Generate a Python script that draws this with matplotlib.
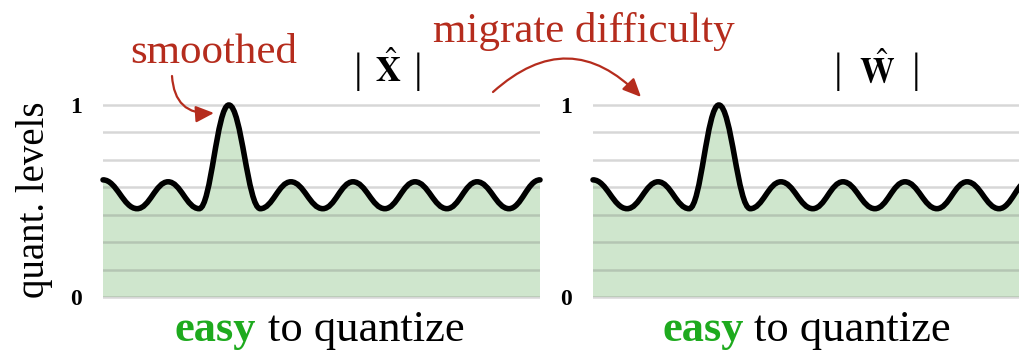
import matplotlib
matplotlib.use("Agg")
import matplotlib.pyplot as plt
from matplotlib.path import Path
from matplotlib.patches import PathPatch, FancyArrowPatch

plt.rcParams['font.family'] = ['Liberation Serif', 'DejaVu Serif']
plt.rcParams['mathtext.fontset'] = 'stix'

# extrema of the smoothed curve
# x: fraction of panel width, y: quantization level (0..1)
knot_x = [0.0, 0.078, 0.149, 0.220, 0.288, 0.360, 0.430, 0.503,
          0.572, 0.645, 0.714, 0.787, 0.856, 0.929, 1.0]
knot_y = [0.61, 0.46, 0.60, 0.46, 1.0, 0.46, 0.60, 0.46,
          0.60, 0.46, 0.60, 0.46, 0.60, 0.46, 0.61]

levels = [0, 0.143, 0.286, 0.429, 0.571, 0.714, 0.857, 1.0]
level_labels = ['0', '', '', '', '', '', '', '1']

titles = [r'$\hat{\mathbf{X}}$', r'$\hat{\mathbf{W}}$']

W, H = 1020, 354
red = '#b52c1d'
green = '#1eaa1e'
fill_green = '#cfe6cd'


def wave(xs, ys, k=0.4, close=False):
    verts = [(xs[0], ys[0])]
    codes = [Path.MOVETO]
    for i in range(len(xs) - 1):
        dx = xs[i + 1] - xs[i]
        verts += [(xs[i] + k * dx, ys[i]), (xs[i + 1] - k * dx, ys[i + 1]), (xs[i + 1], ys[i + 1])]
        codes += [Path.CURVE4] * 3
    if close:
        verts += [(xs[-1], 0), (xs[0], 0), (xs[0], 0)]
        codes += [Path.LINETO, Path.LINETO, Path.CLOSEPOLY]
    return Path(verts, codes)


fig = plt.figure(figsize=(W / 100, H / 100), dpi=100)

# panel geometry in pixels (level 0 at y=297, level 1 at y=105)
y0, y1 = -0.03, 1.1
px_per_unit = 192
bottom_px = 297 + (0 - y0) * px_per_unit
top_px = 105 - (y1 - 1) * px_per_unit
panel_left = [103, 593]
panel_w = 437
label_x = [[175, 268], [662, 754]]
title_x = [388, 877]
bar_half = [30, 39]

for i in range(2):
    ax = fig.add_axes([panel_left[i] / W, (H - bottom_px) / H, panel_w / W, (bottom_px - top_px) / H])
    ax.set_xlim(0, 1)
    ax.set_ylim(y0, y1)
    for s in ax.spines.values():
        s.set_visible(False)
    ax.set_xticks([])
    ax.set_yticks(levels, level_labels)
    ax.tick_params(axis='y', length=0, pad=15)
    for t in ax.get_yticklabels():
        t.set_fontweight('bold')
        t.set_fontsize(17)
    ax.grid(axis='y', color='#707070', alpha=0.28, linewidth=1.8, zorder=2)
    ax.set_axisbelow(False)

    ax.add_patch(PathPatch(wave(knot_x, knot_y, close=True), facecolor=fill_green,
                           edgecolor='none', zorder=1))
    ax.add_patch(PathPatch(wave(knot_x, knot_y), facecolor='none', edgecolor='black',
                           linewidth=4, capstyle='round', zorder=3, clip_on=False))

    # |X^| title: bars as plain text, hatted letter as bold math
    fig.text(title_x[i] / W, (H - 82) / H, titles[i], ha='center', va='baseline', fontsize=25)
    for sx in (-1, 1):
        fig.text((title_x[i] + sx * bar_half[i]) / W, (H - 82) / H, '|', ha='center',
                 va='baseline', fontsize=31)

    fig.text(label_x[i][0] / W, (H - 341) / H, 'easy', color=green, fontweight='bold',
             fontsize=32, ha='left', va='baseline')
    fig.text(label_x[i][1] / W, (H - 341) / H, 'to quantize', color='black',
             fontsize=32, ha='left', va='baseline')

fig.text(35 / W, (H - 200) / H, 'quant. levels', rotation=90, fontsize=28,
         ha='center', va='center')

fig.text(214 / W, (H - 63) / H, 'smoothed', color=red, fontsize=31,
         ha='center', va='baseline')
fig.text(584 / W, (H - 42) / H, 'migrate difficulty', color=red, fontsize=31,
         ha='center', va='baseline')

arrow_kw = dict(transform=fig.transFigure, color=red, linewidth=1.6,
                arrowstyle='-|>,head_length=0.55,head_width=0.25', mutation_scale=20,
                shrinkA=0, shrinkB=0)
fig.patches.append(FancyArrowPatch((172 / W, (H - 76) / H), (214 / W, (H - 113) / H),
                                   connectionstyle='arc3,rad=0.5', **arrow_kw))
fig.patches.append(FancyArrowPatch((493 / W, (H - 92) / H), (641 / W, (H - 97) / H),
                                   connectionstyle='arc3,rad=-0.48', **arrow_kw))

fig.savefig('out.png', dpi=100)
